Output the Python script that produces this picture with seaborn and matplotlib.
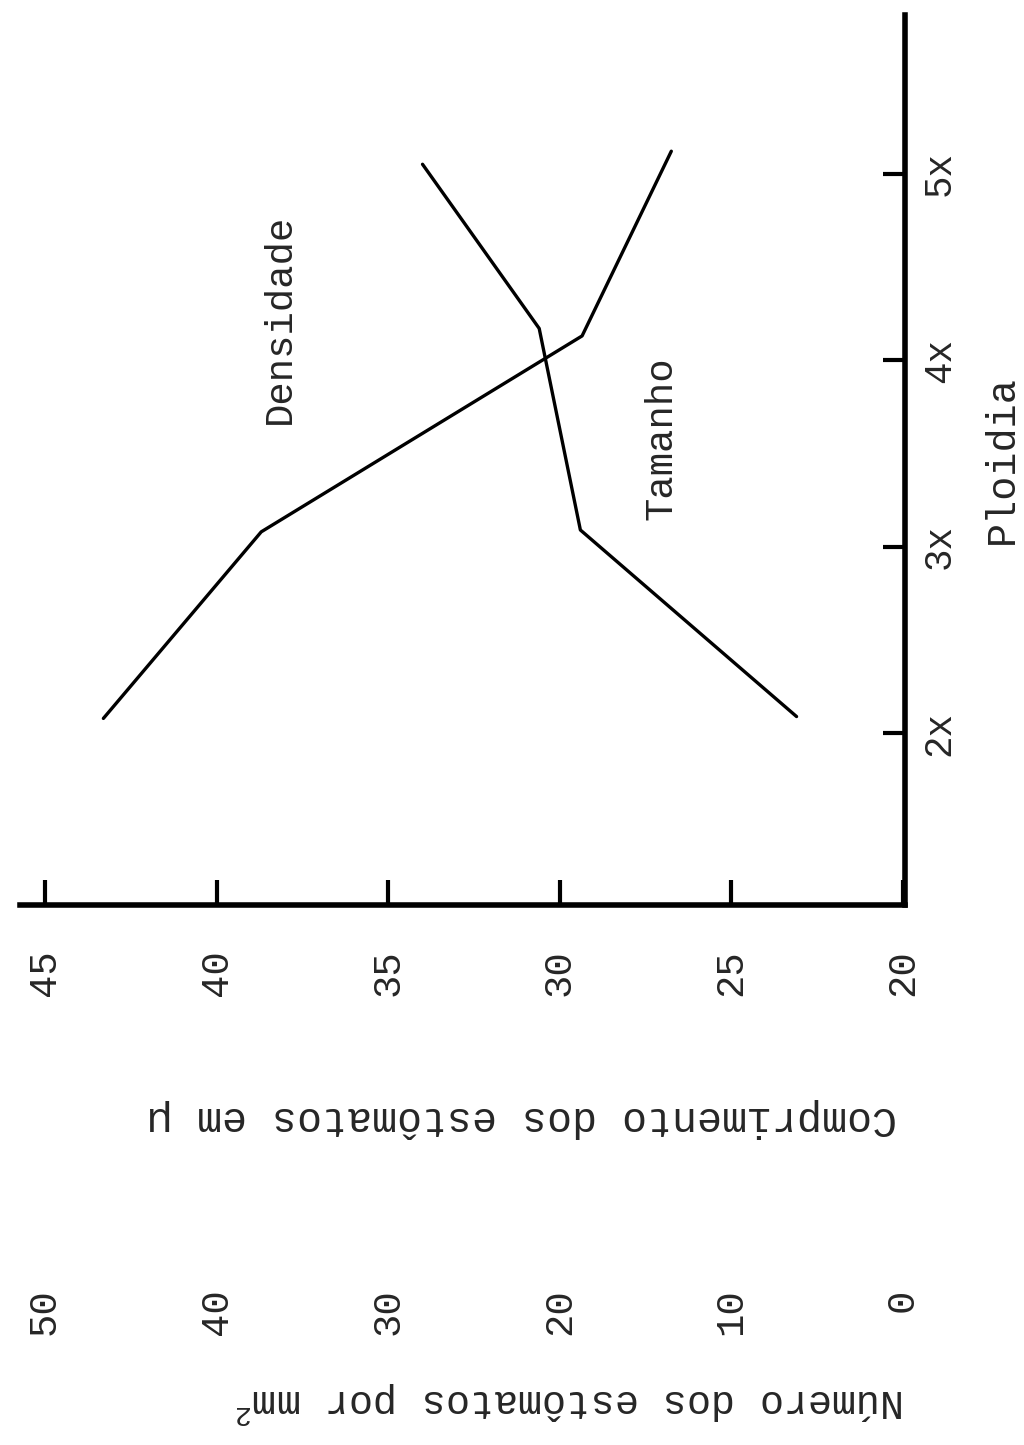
import matplotlib
matplotlib.use("Agg")
import matplotlib.pyplot as plt
import seaborn as sns

ploidia_ticks = [2, 3, 4, 5]
ploidia_labels = ["2x", "3x", "4x", "5x"]

# Densidade: numero de estomatos por mm2
dens_ploidia = [2.08, 3.08, 4.13, 5.12]
dens_valor = [46.6, 37.4, 18.7, 13.5]

# Tamanho: comprimento dos estomatos em micra
tam_ploidia = [2.09, 3.09, 4.17, 5.05]
tam_valor = [23.1, 29.4, 30.6, 34.0]

comp_ticks = [45, 40, 35, 30, 25, 20]
num_ticks = [50, 40, 30, 20, 10, 0]

sns.set_style("white")
plt.rcParams['font.family'] = ['Liberation Mono', 'DejaVu Sans']
plt.rcParams['mathtext.default'] = 'regular'

fig = plt.figure(figsize=(10.24, 14.45), dpi=100)
ax = fig.add_axes([20 / 1024, 1 - 905 / 1445, 885 / 1024, 890 / 1445])
ax2 = ax.twiny()

# lines
sns.lineplot(x=tam_valor, y=tam_ploidia, sort=False, ax=ax, color='black', lw=2.4)
sns.lineplot(x=dens_valor, y=dens_ploidia, sort=False, ax=ax2, color='black', lw=2.4)

ax.set_xlim(45.73, 19.94)
ax.set_ylim(1.08, 5.85)
ax2.set_xlim(51.46, -0.12)

# value axis (bottom) - comprimento
ax.set_xticks(comp_ticks)
ax.set_xticklabels([str(t) for t in comp_ticks])
ax.tick_params(axis='x', direction='in', length=18, width=3, pad=32,
               labelsize=28, labelrotation=90, color='black')

# ploidy axis (right)
ax.yaxis.tick_right()
ax.set_yticks(ploidia_ticks)
ax.set_yticklabels(ploidia_labels)
ax.tick_params(axis='y', direction='in', length=16, width=3, pad=12,
               labelsize=27, labelrotation=90, color='black')
for lbl in ax.get_yticklabels():
    lbl.set_va('center')
ax.yaxis.set_label_position('right')
ax.set_ylabel('Ploidia', fontsize=29, rotation=90)
ax.yaxis.set_label_coords(1.088, 0.5)

for side in ['top', 'left']:
    ax.spines[side].set_visible(False)
for side in ['bottom', 'right']:
    ax.spines[side].set_linewidth(4)
    ax.spines[side].set_color('black')

# second value scale - numero por mm2 (labels only)
ax2.xaxis.set_ticks_position('bottom')
ax2.set_xticks(num_ticks)
ax2.set_xticklabels([str(t) for t in num_ticks])
ax2.tick_params(axis='x', length=0, pad=276, labelsize=28, labelrotation=90)
for side in ax2.spines:
    ax2.spines[side].set_visible(False)
ax2.patch.set_visible(False)
ax2.set_xlabel('')
ax2.set_ylabel('')

# curve names
ax.text(38.15, 4.22, 'Densidade', rotation=90, ha='center', va='center', fontsize=28)
ax.text(27.05, 3.58, 'Tamanho', rotation=90, ha='center', va='center', fontsize=28)

# axis titles (upside down in the scan)
fig.text(522 / 1024, 1 - 1118 / 1445, 'Comprimento dos estômatos em µ',
         rotation=180, ha='center', va='center', fontsize=30)
fig.text(570 / 1024, 1 - 1402 / 1445, 'Número dos estômatos por mm$^2$',
         rotation=180, ha='center', va='center', fontsize=29)

fig.savefig('out.png', dpi=100)
